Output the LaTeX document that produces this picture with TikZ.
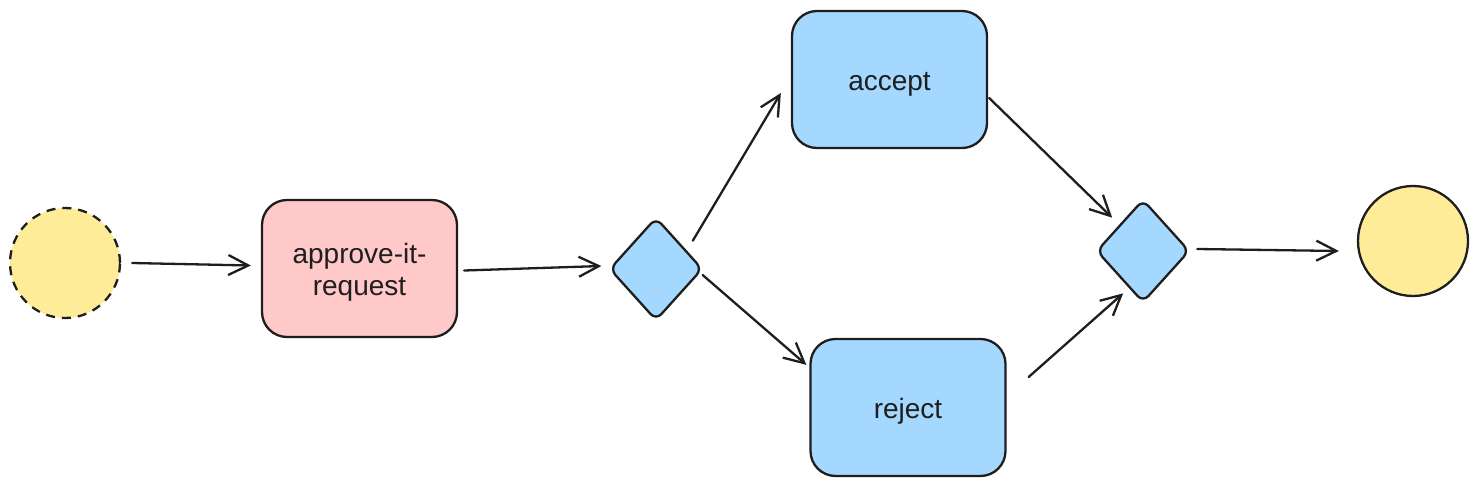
\documentclass[tikz,border=0pt]{standalone}
\usepackage{fontspec}
\setmainfont{Liberation Sans}
\usetikzlibrary{shapes.geometric,arrows.meta,calc}
\definecolor{ink}{HTML}{1E1E1E}
\definecolor{yel}{HTML}{FFEC99}
\definecolor{pink}{HTML}{FFC9C9}
\definecolor{blu}{HTML}{A5D8FF}
\newcommand\lowtext[1]{\raisebox{-5pt}[\height][\depth]{\begin{tabular}{@{}c@{}}#1\end{tabular}}}
\begin{document}
\begin{tikzpicture}[x=1pt,y=-1pt,
  every node/.style={text=ink, font=\fontsize{28}{32}\selectfont},
  evt/.style={circle, draw=ink, line width=2.3pt, fill=yel, minimum size=110pt, inner sep=0},
  task/.style={rectangle, draw=ink, line width=2.3pt, rounded corners=25pt, minimum width=195pt, minimum height=137pt, inner sep=0},
  gate/.style={diamond, draw=ink, line width=2.3pt, fill=blu, rounded corners=8pt, minimum width=93pt, minimum height=103pt, inner sep=0},
  arr/.style={draw=ink, line width=2.3pt, line cap=round, -{Straight Barb[length=20pt,width=20pt,line width=2.3pt]}}
]
\useasboundingbox (0,0) rectangle (1478,487);
\node[evt, dash pattern=on 9pt off 7pt] (start) at (65,263) {};
\node[task, fill=pink] (approve) at (359.5,268.5) {\lowtext{approve-it-\\request}};
\node[task, fill=blu] (accept) at (889.5,79.5) {\lowtext{accept}};
\node[task, fill=blu] (reject) at (908,407.5) {\lowtext{reject}};
\node[gate] (d1) at (656,269) {};
\node[gate] (d2) at (1143,251) {};
\node[evt] (end) at (1413,241) {};

\draw[arr] ($(start.east)+(11,0)$) -- ($(approve.west)+(-10,-3)$);
\draw[arr] ($(approve.east)+(6,2)$) -- ($(d1.west)+(-7,-3)$);
\draw[arr] ($(d1.north east)+(13,-2)$) -- ($(accept.west)+(-10,13.5)$);
\draw[arr] ($(d1.east)+(-1,6)$) -- ($(reject.north west)+(-3,27)$);
\draw[arr] ($(accept.east)+(1,18.5)$) -- ($(d2.north west)+(-7,-7)$);
\draw[arr] ($(reject.east)+(22,-30.5)$) -- ($(d2.south west)+(4,16)$);
\draw[arr] ($(d2.east)+(6.5,-2)$) -- ($(end.west)+(-18,10)$);
\end{tikzpicture}
\end{document}
